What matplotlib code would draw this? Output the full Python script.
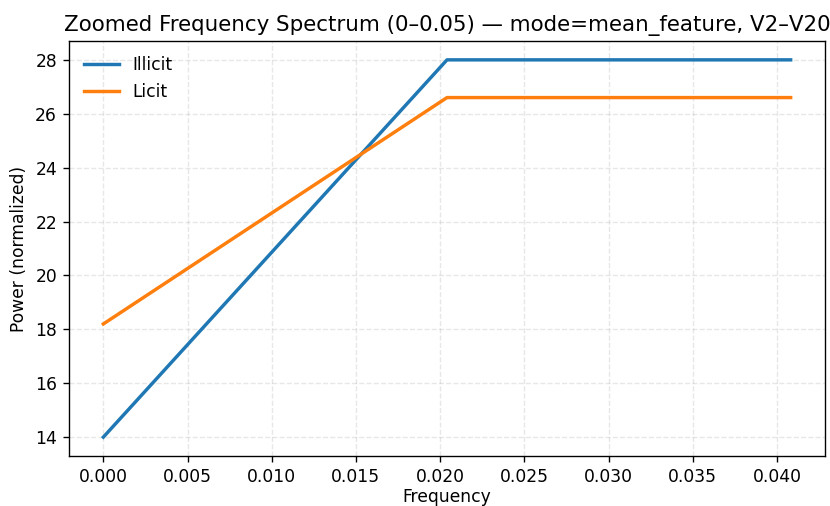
import numpy as np
import matplotlib
matplotlib.use("Agg")
import matplotlib.pyplot as plt

freq = [0.0, 1 / 49, 2 / 49]
illicit = [14.0, 28.0, 28.0]
licit = [18.2, 26.6, 26.6]

fig = plt.figure(figsize=(830 / 123, 506 / 123), dpi=123)
ax = fig.add_axes([0.0831, 0.0988, 0.9109, 0.8202])
ax.plot(freq, illicit, lw=2, label="Illicit")
ax.plot(freq, licit, lw=2, label="Licit")
ax.set_title("Zoomed Frequency Spectrum (0–0.05) — mode=mean_feature, V2–V20", fontsize=12.5)
ax.set_xlabel("Frequency", labelpad=1)
ax.set_ylabel("Power (normalized)")
ax.grid(True, ls="--", alpha=0.3)
ax.legend(loc="upper left", frameon=False)
fig.savefig("out.png", dpi=123)
